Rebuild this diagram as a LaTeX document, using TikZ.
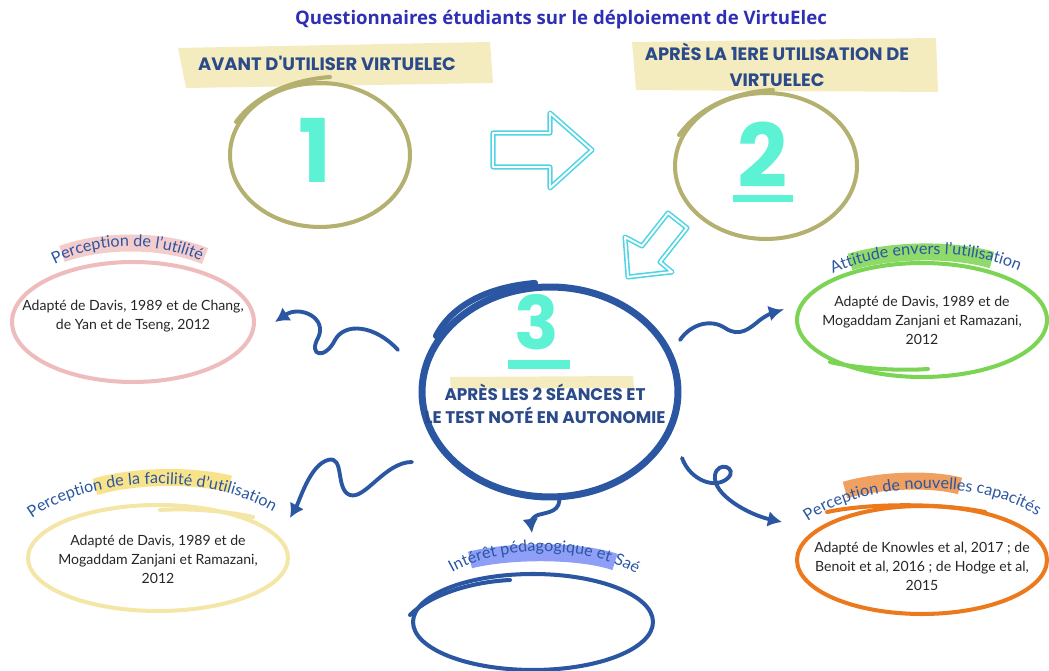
\documentclass[tikz,border=0pt]{standalone}
\usepackage{fontspec}
\setmainfont{Lato}
\newfontfamily\headfont{Poppins}
\newfontfamily\titlefont{Open Sans}
\usetikzlibrary{shapes.geometric,arrows.meta,decorations.text}

\definecolor{titleblue}{HTML}{2F2FB5}
\definecolor{headblue}{HTML}{2B4A8A}
\definecolor{olivec}{HTML}{B3B070}
\definecolor{aqua}{HTML}{5EF2D4}
\definecolor{cyanarrow}{HTML}{4ED4E4}
\definecolor{navy}{HTML}{2A56A2}
\definecolor{bandc}{HTML}{F4EBBE}
\definecolor{pinkc}{HTML}{EEBCBC}
\definecolor{pinkhl}{HTML}{F5CCCC}
\definecolor{greenc}{HTML}{7CD454}
\definecolor{greenhl}{HTML}{90DA6C}
\definecolor{yellowc}{HTML}{F4E6A6}
\definecolor{yellowhl}{HTML}{F9E38A}
\definecolor{orangec}{HTML}{EC7A1C}
\definecolor{orangehl}{HTML}{F0A060}
\definecolor{bluehl}{HTML}{8F9FF7}

\newcommand\lblfont{\fontsize{9.2}{9.2}\selectfont\color{navy}}

\tikzset{
  bubble/.style={ellipse, line width=2.3pt, inner sep=0pt},
  bubtext/.style={align=center, font=\fontsize{8}{10.8}\selectfont, text=black!85},
  ring/.style={ellipse, draw=olivec, line width=2.3pt, inner sep=0pt},
  heading/.style={font=\headfont\bfseries\fontsize{10.2}{14.5}\selectfont,
    text=headblue, align=center},
  digit/.style={font=\headfont\bfseries\fontsize{50}{50}\selectfont, text=aqua},
  squig/.style={draw=navy, line width=2.2pt, line cap=round,
    -{Latex[length=8pt,width=9pt]}},
  hollow/.style={draw=cyanarrow, line width=0.9pt, double=white,
    double distance=1.1pt, line join=round},
  hl/.style={line width=0.34cm},
  curvelabel/.style={decorate, decoration={text along path, text align=center,
    text={|\lblfont|#1}}}
}

\begin{document}
\begin{tikzpicture}[x=0.02cm,y=-0.02cm]
  \useasboundingbox (0,0) rectangle (1049,671);

  % title
  \node[font=\titlefont\bfseries\fontsize{10.6}{12}\selectfont, text=titleblue]
    (title) at (561,20) {Questionnaires étudiants sur le déploiement de VirtuElec};

  % yellow bands behind the headings
  \fill[bandc] (178,48) -- (490,42) -- (493,83) -- (186,88) -- cycle;
  \fill[bandc] (632,42) -- (936,38) -- (938,92) -- (636,90) -- cycle;
  \fill[bandc] (450,377) -- (633,376) -- (634,388) -- (451,389) -- cycle;

  \node[heading] (h1) at (327,63) {AVANT D'UTILISER VIRTUELEC};
  \node[heading] (h2) at (777,65) {APRÈS LA 1ERE UTILISATION DE\\VIRTUELEC};

  % the three steps
  \node[ring, minimum width=3.6cm, minimum height=2.88cm] (c1) at (320,155) {};
  \draw[olivec, line width=2.3pt, line cap=round]
    (236,122) .. controls (255,96) and (290,80) .. (330,77);
  \node[digit] (n1) at (315,150) {1};

  \node[ring, minimum width=3.64cm, minimum height=2.92cm] (c2) at (766,166) {};
  \draw[olivec, line width=2.3pt, line cap=round]
    (679,135) .. controls (700,106) and (735,92) .. (773,90);
  \node[digit] (n2) at (763,155) {2};
  \fill[aqua] (733,195) rectangle (793,202);

  \node[ellipse, draw=navy, line width=4pt, inner sep=0pt,
    minimum width=5.12cm, minimum height=4.2cm] (c3) at (550,392) {};
  \draw[navy, line width=3.5pt, line cap=round]
    (436,336) .. controls (452,305) and (488,287) .. (535,283);
  \node[digit, font=\headfont\bfseries\fontsize{42}{42}\selectfont] (n3) at (537,322) {3};
  \fill[aqua] (508,360) rectangle (570,369);
  \node[heading, font=\headfont\bfseries\fontsize{9.6}{13}\selectfont]
    (h3) at (545,404) {APRÈS LES 2 SÉANCES ET\\LE TEST NOTÉ EN AUTONOMIE};

  % hollow arrows
  \draw[hollow] (493,133) -- (550,133) -- (550,113) -- (592,150) -- (550,188)
    -- (550,167) -- (493,167) -- cycle;
  \draw[hollow] (628,277) -- (625,237) -- (642,246) -- (668,213) -- (687,228)
    -- (660,262) -- (672,272) -- cycle;

  % highlights under the curved labels
  \draw[hl, pinkhl] (62,254) .. controls (100,240) and (160,238) .. (205,256);
  \draw[hl, greenhl] (850,262) .. controls (890,250) and (950,248) .. (992,260);
  \draw[hl, yellowhl] (95,487) .. controls (130,476) and (190,474) .. (230,484);
  \draw[hl, orangehl] (845,490) .. controls (880,480) and (930,478) .. (960,486);
  \draw[hl, bluehl] (470,560) .. controls (510,550) and (580,550) .. (615,562);

  % outcome bubbles
  \node[bubble, draw=pinkc, minimum width=4.84cm, minimum height=2.4cm]
    (util) at (133,322) {};
  \node[bubtext] (utilt) at (133,316) {Adapté de Davis, 1989 et de Chang,\\de Yan et de Tseng, 2012};

  \node[bubble, draw=greenc, minimum width=5cm, minimum height=2.28cm]
    (att) at (922,320) {};
  \draw[greenc, line width=2.3pt, line cap=round]
    (830,362) .. controls (860,369) and (900,371) .. (928,369);
  \node[bubtext] (attt) at (922,320) {Adapté de Davis, 1989 et de\\Mogaddam Zanjani et Ramazani,\\2012};

  \node[bubble, draw=yellowc, minimum width=5.2cm, minimum height=2.12cm]
    (ease) at (158,558) {};
  \draw[yellowc, line width=2.3pt, line cap=round]
    (160,510) .. controls (190,508) and (225,511) .. (253,517);
  \node[bubtext] (easet) at (158,559) {Adapté de Davis, 1989 et de\\Mogaddam Zanjani et Ramazani,\\2012};

  \node[bubble, draw=orangec, minimum width=5cm, minimum height=2.16cm]
    (capa) at (922,560) {};
  \draw[orangec, line width=2.3pt, line cap=round]
    (827,512) .. controls (870,503) and (940,503) .. (985,512);
  \node[bubtext] (capat) at (922,566) {Adapté de Knowles et al, 2017 ; de\\Benoit et al, 2016 ; de Hodge et al,\\2015};

  \node[bubble, draw=navy, minimum width=4.8cm, minimum height=1.92cm]
    (inter) at (533,622) {};
  \draw[navy, line width=2.3pt, line cap=round]
    (410,615) .. controls (430,595) and (470,582) .. (510,580);

  % curved labels
  \path[curvelabel={Perception de l'utilité}]
    (38,274) .. controls (90,238) and (165,238) .. (218,270);
  \path[curvelabel={Attitude envers l'utilisation}]
    (820,280) .. controls (880,246) and (975,246) .. (1032,277);
  \path[curvelabel={Perception de la facilité d'utilisation}]
    (18,530) .. controls (80,470) and (222,470) .. (288,522);
  \path[curvelabel={Perception de nouvelles capacités}]
    (796,530) .. controls (860,476) and (990,476) .. (1049,524);
  \path[curvelabel={Intérêt pédagogique et Saé}]
    (438,582) .. controls (490,541) and (600,541) .. (650,584);

  % squiggly connectors
  \coordinate (a1s) at (398,350);
  \coordinate (a1e) at (275,322);
  \coordinate (a2s) at (680,340);
  \coordinate (a2e) at (783,310);
  \coordinate (a3s) at (412,462);
  \coordinate (a3e) at (290,518);
  \coordinate (a4s) at (682,458);
  \coordinate (a4e) at (782,522);
  \coordinate (a5s) at (559,495);
  \coordinate (a5e) at (532,533);

  \draw[squig] (a1s) .. controls (375,325) and (345,322) .. (335,340)
    .. controls (325,360) and (308,356) .. (318,338)
    .. controls (328,318) and (300,305) .. (a1e);
  \draw[squig] (a2s) .. controls (690,325) and (710,318) .. (725,328)
    .. controls (740,338) and (750,328) .. (760,320)
    .. controls (768,314) and (775,312) .. (a2e);
  \draw[squig] (a3s) .. controls (385,462) and (365,500) .. (350,495)
    .. controls (335,490) and (345,455) .. (328,460)
    .. controls (310,465) and (300,500) .. (a3e);
  \draw[squig] (a4s) .. controls (690,480) and (715,490) .. (728,478)
    .. controls (738,468) and (718,460) .. (715,475)
    .. controls (712,495) and (750,515) .. (a4e);
  \draw[squig] (a5s) .. controls (562,512) and (548,512) .. (538,515)
    .. controls (530,518) and (531,525) .. (a5e);
\end{tikzpicture}
\end{document}
